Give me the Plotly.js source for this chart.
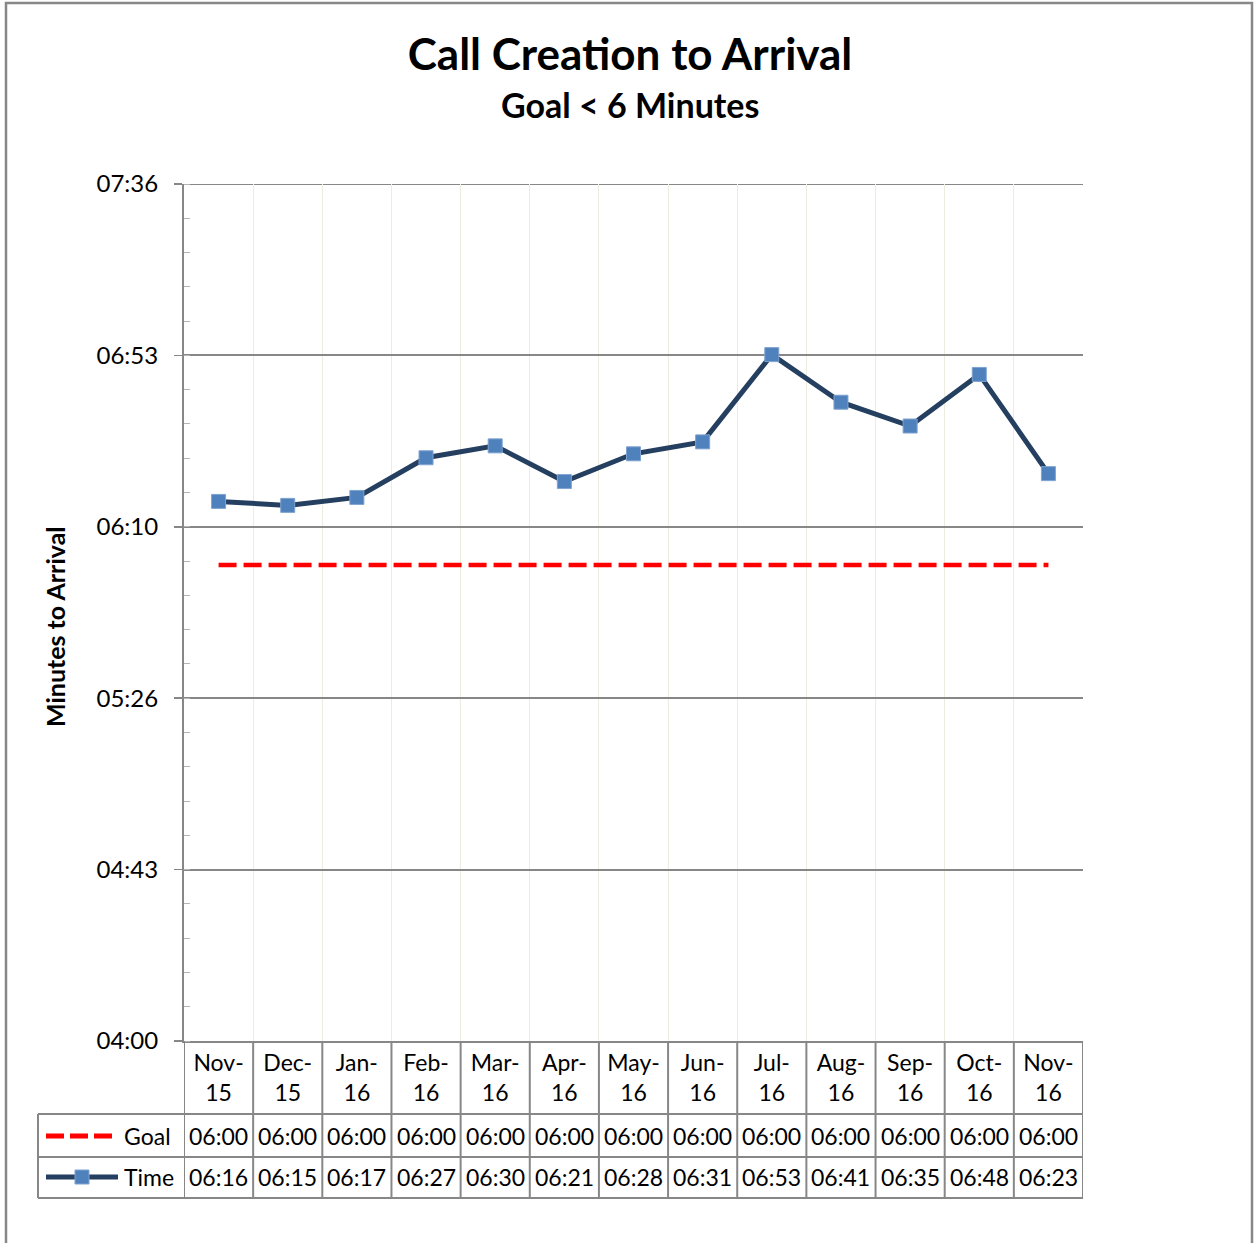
<!DOCTYPE html>
<html>
<head>
<meta charset="utf-8">
<script src="https://cdn.plot.ly/plotly-3.0.1.min.js"></script>
<style>html,body{margin:0;padding:0;background:#fff;}#chart{width:1254px;height:1243px;}</style>
</head>
<body>
<div id="chart"></div>
<script>
// ---- data ----
const months = ['Nov-15','Dec-15','Jan-16','Feb-16','Mar-16','Apr-16','May-16','Jun-16','Jul-16','Aug-16','Sep-16','Oct-16','Nov-16'];
const goalTimes = ['06:00','06:00','06:00','06:00','06:00','06:00','06:00','06:00','06:00','06:00','06:00','06:00','06:00'];
const arrivalTimes = ['06:16','06:15','06:17','06:27','06:30','06:21','06:28','06:31','06:53','06:41','06:35','06:48','06:23'];
const yTickSeconds = [240, 283.2, 326.4, 369.6, 412.8, 456];
const seriesNames = ['Goal','Time'];

// ---- helpers ----
function toSec(s){ const p = s.split(':'); return (+p[0])*60 + (+p[1]); }
function fmt(sec){ const r = Math.round(sec); const m = Math.floor(r/60), s = r%60; return String(m).padStart(2,'0')+':'+String(s).padStart(2,'0'); }

const L = 184, R = 1083, T = 184, B = 1041, W = 1254, H = 1243;
const X = px => (px - L)/(R - L);
const Y = py => (B - py)/(B - T);

const FONT = "Lato, 'Open Sans', 'DejaVu Sans', sans-serif";
const GRAY = '#878787';
const NAVY = '#243f60';
const MARK = '#4f81bd';
const RED = '#ff0000';

const goalSec = goalTimes.map(toSec);
const timeSec = arrivalTimes.map(toSec);
const headerLabels = months.map(m => m.replace('-', '-<br>'));

const traces = [
  {x: months, y: goalSec, name: seriesNames[0], type: 'scatter', mode: 'lines',
   line: {color: RED, width: 4.5, dash: '18px,7px'}, hoverinfo: 'skip'},
  {x: months, y: timeSec, name: seriesNames[1], type: 'scatter', mode: 'lines+markers',
   line: {color: NAVY, width: 5}, marker: {symbol: 'square', size: 14, color: MARK, line: {color: '#7fa3d0', width: 1}}, hoverinfo: 'skip'}
];

// ---- table lines ----
const shapes = [];
const lineStyle = {color: GRAY, width: 2};
// outer chart frame
shapes.push({type:'rect', xref:'paper', yref:'paper', x0:X(6), x1:X(1252), y0:Y(3), y1:Y(1265), line:{color:GRAY, width:2.5}, fillcolor:'rgba(0,0,0,0)', layer:'below'});
// top gridline (axis maximum)
shapes.push({type:'line', xref:'paper', yref:'y', x0:0, x1:1, y0:yTickSeconds[yTickSeconds.length-1], y1:yTickSeconds[yTickSeconds.length-1], line:{color:GRAY, width:2}, layer:'below'});
// vertical column boundaries
for (let i = 0; i <= months.length; i++) {
  shapes.push({type:'line', xref:'x', yref:'paper', x0:i-0.5, x1:i-0.5, y0:Y(1041), y1:Y(1198), line:lineStyle});
}
// left edge of legend column
shapes.push({type:'line', xref:'paper', yref:'paper', x0:X(38), x1:X(38), y0:Y(1114), y1:Y(1198), line:lineStyle});
// horizontal rows
[1114, 1157, 1198].forEach(py => {
  shapes.push({type:'line', xref:'paper', yref:'paper', x0:X(38), x1:1, y0:Y(py), y1:Y(py), line:lineStyle});
});
// legend keys
shapes.push({type:'line', xref:'paper', yref:'paper', x0:X(46), x1:X(112), y0:Y(1136), y1:Y(1136), line:{color:RED, width:5, dash:'18px,6px'}});
shapes.push({type:'line', xref:'paper', yref:'paper', x0:X(46), x1:X(118), y0:Y(1177), y1:Y(1177), line:{color:NAVY, width:5}});
shapes.push({type:'rect', xref:'paper', yref:'paper', x0:X(75), x1:X(89), y0:Y(1170), y1:Y(1184), line:{color:'#7fa3d0', width:1}, fillcolor:MARK});

// ---- annotations ----
const annotations = [];
annotations.push({text:'<b>Goal &lt; 6 Minutes</b>', xref:'paper', yref:'paper', x:X(630), y:Y(105), xanchor:'center', yanchor:'middle', showarrow:false, font:{family:FONT, size:34, color:'#000'}});
annotations.push({text:'<b>Minutes to Arrival</b>', xref:'paper', yref:'paper', x:X(55), y:Y(627), xanchor:'center', yanchor:'middle', textangle:-90, showarrow:false, font:{family:FONT, size:25, color:'#000'}});
annotations.push({text:seriesNames[0], xref:'paper', yref:'paper', x:X(122), y:Y(1136), xanchor:'left', yanchor:'middle', showarrow:false, font:{family:FONT, size:23, color:'#000'}});
annotations.push({text:seriesNames[1], xref:'paper', yref:'paper', x:X(122), y:Y(1177), xanchor:'left', yanchor:'middle', showarrow:false, font:{family:FONT, size:23, color:'#000'}});
months.forEach((m, i) => {
  annotations.push({text:goalTimes[i], xref:'x', yref:'paper', x:i, y:Y(1136), xanchor:'center', yanchor:'middle', showarrow:false, font:{family:FONT, size:23, color:'#000'}});
  annotations.push({text:arrivalTimes[i], xref:'x', yref:'paper', x:i, y:Y(1177), xanchor:'center', yanchor:'middle', showarrow:false, font:{family:FONT, size:23, color:'#000'}});
});

const layout = {
  width: W, height: H,
  margin: {l: L, r: W - R, t: T, b: H - B, pad: 0},
  paper_bgcolor: '#fff', plot_bgcolor: '#fff',
  showlegend: false,
  font: {family: FONT, color: '#000', size: 23},
  title: {text: '<b>Call Creation to Arrival</b>', x: 630/W, xanchor: 'center', y: 1 - 55/H, yanchor: 'middle', font: {family: FONT, size: 44, color: '#000'}},
  xaxis: {
    type: 'category', range: [-0.5, months.length - 0.5],
    tickmode: 'array', tickvals: months, ticktext: headerLabels,
    tickson: 'boundaries', showgrid: true, gridcolor: '#ededdf', gridwidth: 1,
    ticks: 'outside', ticklen: 6, tickcolor: 'rgba(0,0,0,0)',
    showline: true, linecolor: GRAY, linewidth: 2,
    tickfont: {family: FONT, size: 23, color: '#000'}, zeroline: false, fixedrange: true
  },
  yaxis: {
    range: [240, 456], tickmode: 'array', tickvals: yTickSeconds, ticktext: yTickSeconds.map(fmt),
    showgrid: true, gridcolor: GRAY, gridwidth: 2,
    ticks: 'outside', ticklen: 8, tickcolor: GRAY, tickwidth: 1.5,
    ticklabelstandoff: 11,
    minor: {tickmode: 'linear', tick0: 240, dtick: 8.64, ticks: 'inside', ticklen: 6, tickcolor: '#b5b5b5', tickwidth: 1, showgrid: false},
    showline: true, linecolor: GRAY, linewidth: 2, zeroline: false,
    tickfont: {family: FONT, size: 24, color: '#000'}, fixedrange: true
  },
  shapes: shapes,
  annotations: annotations
};

Plotly.newPlot('chart', traces, layout, {staticPlot: true, displayModeBar: false});
</script>
</body>
</html>
